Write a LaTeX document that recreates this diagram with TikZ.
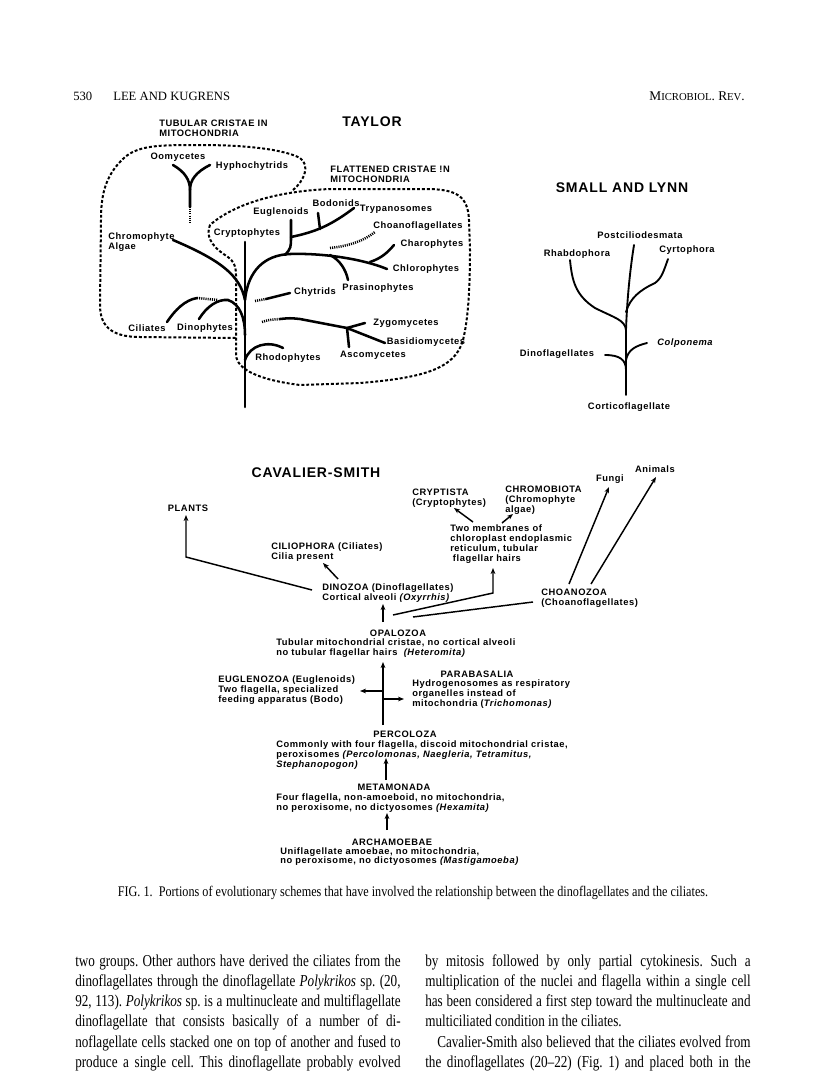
\documentclass[tikz,border=0pt]{standalone}
\usepackage{fontspec}
\setmainfont{Liberation Serif}
\newfontfamily\figfont[LetterSpace=6]{Liberation Sans}
\newfontfamily\bodyfont[FakeStretch=0.79]{Liberation Serif}
\newfontfamily\capfont[FakeStretch=0.83]{Liberation Serif}
\usepackage{tikz}
\usetikzlibrary{arrows.meta,positioning}

\tikzset{
  branch/.style={line width=1.9pt, line cap=round},
  faint/.style={line width=1.9pt, dash pattern=on 0.8pt off 0.8pt},
  cristae/.style={line width=1.5pt, dash pattern=on 2.2pt off 1.5pt},
  taxon/.style={font=\figfont\bfseries\fontsize{7}{7.6}\selectfont, inner sep=0pt, align=left},
  heading/.style={font=\figfont\bfseries\fontsize{10.5}{12}\selectfont, inner sep=0pt},
  cavtext/.style={font=\figfont\bfseries\fontsize{7}{7.5}\selectfont, inner sep=0pt, align=left},
  cavline/.style={line width=1.1pt},
  cavarrow/.style={line width=1.1pt, -{Stealth[length=4.5pt,width=3.5pt]}},
  column/.style={anchor=north west, inner sep=0pt, text width=244pt, align=justify,
    font=\bodyfont\frenchspacing\fontsize{12.5}{15.2}\selectfont},
}

\begin{document}
\begin{tikzpicture}[x=0.75pt,y=-0.75pt]
\fill[white] (0,0) rectangle (816,1078);
\useasboundingbox (0,0) rectangle (816,1078);

% running head
\node[anchor=west, inner sep=0pt, font=\fontsize{9.5}{11}\selectfont] (pageno) at (73,96) {530};
\node[anchor=west, inner sep=0pt, font=\fontsize{9.5}{11}\selectfont] (authors) at (113,96) {LEE AND KUGRENS};
\node[anchor=east, inner sep=0pt, font=\fontsize{10}{11}\selectfont] (journal) at (745,96) {M{\fontsize{8}{10}\selectfont ICROBIOL}. R{\fontsize{8}{10}\selectfont EV}.};

%%% Taylor
\node[heading] (taylor) at (372,122) {TAYLOR};
\node[taxon, anchor=west] (tubular) at (159,128) {TUBULAR CRISTAE IN\\MITOCHONDRIA};
\node[taxon, anchor=west] (flattened) at (330,174) {FLATTENED CRISTAE !N\\MITOCHONDRIA};

% cristae regions
\draw[cristae] (293,190) .. controls (305,180) and (310,165) .. (300,158)
  .. controls (285,150) and (250,145) .. (200,145)
  .. controls (160,145) and (140,145) .. (125,157)
  .. controls (105,175) and (101,195) .. (101,220) -- (100,305)
  .. controls (100,325) and (110,337) .. (140,337) -- (236,338);
\draw[cristae] (210,225) .. controls (206,235) and (210,245) .. (225,255)
  .. controls (233,260) and (236,265) .. (236,275) -- (236,355)
  .. controls (237,370) and (260,380) .. (300,385) -- (360,383)
  .. controls (420,378) and (455,370) .. (463,340)
  .. controls (468,320) and (470,290) .. (470,250) -- (469,220)
  .. controls (468,195) and (455,190) .. (430,189) -- (330,189)
  .. controls (280,191) and (235,203) .. (210,225);

% tree
\draw[branch] (245,242) -- (245,407);
\draw[branch] (173,240) .. controls (220,260) and (240,275) .. (245,300);
\draw[branch] (245,300) .. controls (248,270) and (265,255) .. (290,254)
  .. controls (320,253) and (360,258) .. (387,269);
\draw[branch] (285,255) .. controls (291,248) .. (291,236) -- (291,220);
\draw[branch] (291,237) .. controls (315,232) and (330,226) .. (354,208);
\draw[branch] (320,229) -- (318,213);
\draw[faint] (330,248) .. controls (350,246) and (365,240) .. (375,232);
\draw[branch] (370,262) .. controls (382,258) and (388,252) .. (394,245);
\draw[branch] (330,255) .. controls (340,260) and (346,270) .. (348,280);
\draw[faint] (255,301) -- (266,299);
\draw[branch] (266,299) -- (290,293);
\draw[faint] (262,322) .. controls (268,320) .. (280,319);
\draw[branch] (280,319) .. controls (290,318) .. (300,319) -- (347,328) -- (385,343);
\draw[branch] (347,328) -- (365,323);
\draw[branch] (347,328) -- (349,347);
\draw[branch] (245,360) .. controls (250,345) and (268,340) .. (283,348);
\draw[branch] (199,319) .. controls (207,306) and (218,299) .. (228,300)
  .. controls (240,304) and (245,318) .. (245,335);
\draw[branch] (167,322) .. controls (175,310) and (185,300) .. (197,298);
\draw[faint] (197,298) -- (218,300);
\draw[branch] (173,165) .. controls (185,172) and (190,180) .. (190,190);
\draw[branch] (210,165) .. controls (196,172) and (190,180) .. (190,190) -- (190,207);
\draw[faint] (190,207) -- (190,223);

\node[taxon] (oomy) at (178,157) {Oomycetes};
\node[taxon] (hypho) at (252,166) {Hyphochytrids};
\node[taxon, anchor=west] (chromo) at (108,242.5) {Chromophyte\\Algae};
\node[taxon] (crypto) at (247,233) {Cryptophytes};
\node[taxon] (eugl) at (281,212) {Euglenoids};
\node[taxon] (bodo) at (336,203) {Bodonids};
\node[taxon] (trypa) at (396,209) {Trypanosomes};
\node[taxon] (choano) at (418,226) {Choanoflagellates};
\node[taxon] (charo) at (432,244) {Charophytes};
\node[taxon] (chloro) at (426,269) {Chlorophytes};
\node[taxon] (prasino) at (378,288) {Prasinophytes};
\node[taxon] (chytr) at (315,292) {Chytrids};
\node[taxon] (zygo) at (406,323) {Zygomycetes};
\node[taxon] (basid) at (426,342) {Basidiomycetes};
\node[taxon] (asco) at (373,355) {Ascomycetes};
\node[taxon] (rhodo) at (288,358) {Rhodophytes};
\node[taxon] (cil) at (147,328) {Ciliates};
\node[taxon] (dino) at (205,328) {Dinophytes};

%%% Small and Lynn
\node[heading] (smalllynn) at (622,188) {SMALL AND LYNN};
\draw[branch, line width=1.4pt] (626,395) -- (626,330) .. controls (627,300) and (630,270) .. (634,245);
\draw[branch, line width=1.4pt] (570,260) .. controls (572,280) and (575,295) .. (595,308)
  .. controls (615,318) and (625,320) .. (626,330);
\draw[branch, line width=1.4pt] (668,259) .. controls (664,270) and (662,278) .. (655,283)
  .. controls (640,290) and (630,298) .. (626,312);
\draw[branch, line width=1.4pt] (647,343) .. controls (635,346) and (628,350) .. (626,360);
\draw[branch, line width=1.4pt] (605,355) .. controls (620,355) and (626,360) .. (626,370);
\node[taxon] (postcil) at (640,235) {Postciliodesmata};
\node[taxon] (rhabdo) at (577,254) {Rhabdophora};
\node[taxon] (cyrto) at (687,250) {Cyrtophora};
\node[taxon, font=\figfont\bfseries\itshape\fontsize{7}{7.6}\selectfont] (colpo) at (685,343) {Colponema};
\node[taxon] (dinofl) at (557,354) {Dinoflagellates};
\node[taxon] (cortico) at (629,407) {Corticoflagellate};

%%% Cavalier-Smith
\node[heading] (cavsmith) at (316,473) {CAVALIER-SMITH};
\node[cavtext] (plants) at (188,508) {PLANTS};
\node[cavtext] (fungi) at (610,479) {Fungi};
\node[cavtext] (animals) at (655,469) {Animals};
\node[cavtext, anchor=west] (cilio) at (271,552) {CILIOPHORA (Ciliates)\\Cilia present};
\node[cavtext, anchor=west] (dinozoa) at (322,593) {DINOZOA (Dinoflagellates)\\Cortical alveoli \textit{(Oxyrrhis)}};
\node[cavtext, anchor=west] (cryptista) at (412,498) {CRYPTISTA\\(Cryptophytes)};
\node[cavtext, anchor=west] (chromob) at (505,500.5) {CHROMOBIOTA\\(Chromophyte\\algae)};
\node[cavtext, anchor=west] (membr) at (450,544.5) {Two membranes of\\chloroplast endoplasmic\\reticulum, tubular\\\hspace*{2pt}flagellar hairs};
\node[cavtext, anchor=west] (choanozoa) at (541,598) {CHOANOZOA\\(Choanoflagellates)};
\node[cavtext] (opal) at (398,633) {OPALOZOA};
\node[cavtext, anchor=west] (opaldesc) at (276,648) {Tubular mitochondrial cristae, no cortical alveoli\\no tubular flagellar hairs \ \textit{(Heteromita)}};
\node[cavtext, anchor=west] (eugzoa) at (218,690.5) {EUGLENOZOA (Euglenoids)\\Two flagella, specialized\\feeding apparatus (Bodo)};
\node[cavtext] (parab) at (477,674) {PARABASALIA};
\node[cavtext, anchor=west] (parabdesc) at (412,694) {Hydrogenosomes as respiratory\\organelles instead of\\mitochondria (\textit{Trichomonas)}};
\node[cavtext] (percol) at (405,734) {PERCOLOZA};
\node[cavtext, anchor=west] (percoldesc) at (276,755) {Commonly with four flagella, discoid mitochondrial cristae,\\peroxisomes \textit{(Percolomonas, Naegleria, Tetramitus,}\\\textit{Stephanopogon)}};
\node[cavtext] (meta) at (394,787) {METAMONADA};
\node[cavtext, anchor=west] (metadesc) at (276,803) {Four flagella, non-amoeboid, no mitochondria,\\no peroxisome, no dictyosomes \textit{(Hexamita)}};
\node[cavtext] (archa) at (392,842) {ARCHAMOEBAE};
\node[cavtext, anchor=west, font=\figfont\bfseries\fontsize{7}{6.8}\selectfont] (archadesc) at (280,856.5) {Uniflagellate amoebae, no mitochondria,\\no peroxisome, no dictyosomes \textit{(Mastigamoeba)}};

\coordinate (plantsTip) at (186,515);
\coordinate (plantsBend) at (186,557);
\coordinate (dinoWest) at (312,590);
\coordinate (cilioFoot) at (338,579);
\coordinate (cilioTip) at (323,563);
\coordinate (opalTop) at (383,622);
\coordinate (dinoFoot) at (383,604);
\coordinate (opalRightA) at (393,615);
\coordinate (membrBend) at (493,593);
\coordinate (membrTip) at (493,568);
\coordinate (opalRightB) at (413,617);
\coordinate (choanoWest) at (533,602);
\coordinate (cryptFoot) at (473,522);
\coordinate (cryptTip) at (454,508);
\coordinate (chromFoot) at (502,523);
\coordinate (chromTip) at (513,514);
\coordinate (fungiFoot) at (569,584);
\coordinate (fungiTip) at (609,487);
\coordinate (animFoot) at (591,584);
\coordinate (animTip) at (656,477);
\coordinate (percolTop) at (383,725);
\coordinate (opalFoot) at (383,662);
\coordinate (eugFork) at (383,691);
\coordinate (eugTip) at (360,691);
\coordinate (parabFork) at (383,699);
\coordinate (parabTip) at (404,699);
\coordinate (metaTop) at (386,780);
\coordinate (percolFoot) at (386,758);
\coordinate (archaTop) at (387,830);
\coordinate (metaFoot) at (387,813);

\draw[cavarrow] (dinoWest) -- (plantsBend) -- (plantsTip);
\draw[cavarrow] (cilioFoot) -- (cilioTip);
\draw[cavarrow] (opalTop) -- (dinoFoot);
\draw[cavarrow] (opalRightA) -- (membrBend) -- (membrTip);
\draw[cavline] (opalRightB) -- (choanoWest);
\draw[cavarrow] (cryptFoot) -- (cryptTip);
\draw[cavarrow] (chromFoot) -- (chromTip);
\draw[cavarrow] (fungiFoot) -- (fungiTip);
\draw[cavarrow] (animFoot) -- (animTip);
\draw[cavarrow] (percolTop) -- (opalFoot);
\draw[cavarrow] (eugFork) -- (eugTip);
\draw[cavarrow] (parabFork) -- (parabTip);
\draw[cavarrow] (metaTop) -- (percolFoot);
\draw[cavarrow] (archaTop) -- (metaFoot);

% caption and text
\node[inner sep=0pt, font=\capfont\frenchspacing\fontsize{11}{12}\selectfont] (caption) at (413,893)
  {FIG. 1.\ \ Portions of evolutionary schemes that have involved the relationship between the dinoflagellates and the ciliates.};
\node[column] (colleft) at (75,954)
  {two groups. Other authors have derived the ciliates from the\linebreak
   dinoflagellates through the dinoflagellate \textit{Polykrikos} sp. (20,\linebreak
   92, 113). \textit{Polykrikos} sp. is a multinucleate and multiflagellate\linebreak
   dinoflagellate that consists basically of a number of di-\linebreak
   noflagellate cells stacked one on top of another and fused to\linebreak
   produce a single cell. This dinoflagellate probably evolved\parfillskip=0pt\par};
\node[column] (colright) at (425,954)
  {by mitosis followed by only partial cytokinesis. Such a\linebreak
   multiplication of the nuclei and flagella within a single cell\linebreak
   has been considered a first step toward the multinucleate and\linebreak
   multiciliated condition in the ciliates.\par
   \hspace*{9pt}Cavalier-Smith also believed that the ciliates evolved from\linebreak
   the dinoflagellates (20–22) (Fig. 1) and placed both in the\parfillskip=0pt\par};
\end{tikzpicture}
\end{document}
